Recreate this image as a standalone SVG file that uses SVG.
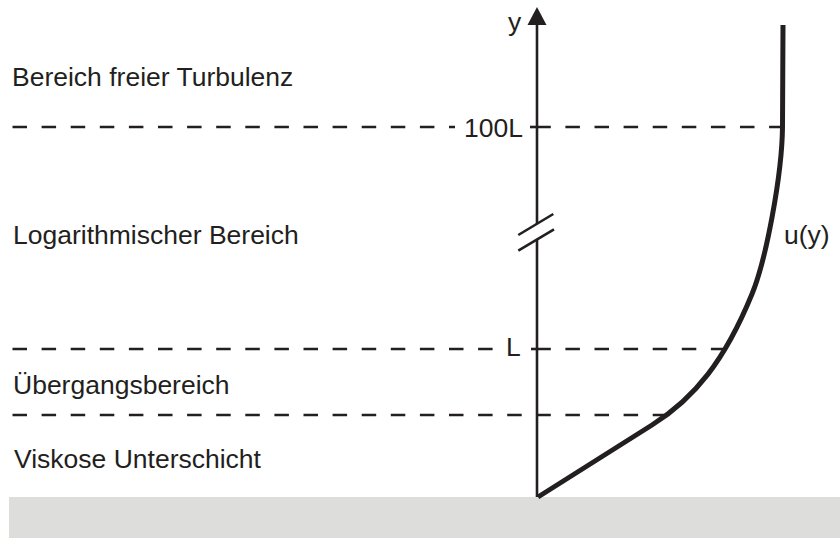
<svg xmlns="http://www.w3.org/2000/svg" width="840" height="538" viewBox="0 0 840 538">
  <style>
    .lbl { font-family: "Liberation Sans", Arial, sans-serif; font-size: 26.5px; fill: #231f20; }
    .dash { fill: none; stroke: #231f20; stroke-width: 2.6; stroke-dasharray: 14.5 14.6; }
    .solid { fill: none; stroke: #231f20; stroke-width: 2.6; }
    .curve { fill: none; stroke: #231f20; stroke-width: 5; stroke-linejoin: round; }
  </style>
  <rect width="840" height="538" fill="#ffffff"/>
  <g id="ground">
    <rect x="9" y="497" width="831" height="41" fill="#dddddc"/>
  </g>
  <g id="levels">
    <path class="dash" d="M12.5,127 H455"/>
    <path class="dash" d="M536.3,127 H781"/>
    <path class="solid" d="M530,127 H538"/>
    <path class="dash" d="M12.5,349 H494"/>
    <path class="dash" d="M536.3,349 H727"/>
    <path class="solid" d="M531,349 H538"/>
    <path class="dash" d="M12.5,415 H664"/>
  </g>
  <g id="axis">
    <path class="solid" d="M537,24 V224 M537,239.5 V497"/>
    <polygon points="537,7 527.5,25 546.5,25" fill="#231f20"/>
    <path class="solid" d="M518.3,235 L553.3,214 M518.3,250.7 L554,229.3"/>
    <text class="lbl" x="508" y="31">y</text>
    <text class="lbl" x="523" y="137" text-anchor="end">100L</text>
    <text class="lbl" x="506" y="356">L</text>
  </g>
  <g id="profile">
    <path class="curve" d="M538,497 L652,425 C695,398 725,360 752,294 C766,260 782,175 782.5,127 L783,25"/>
    <text class="lbl" x="784" y="244">u(y)</text>
  </g>
  <g id="regions">
    <text class="lbl" x="12" y="86">Bereich freier Turbulenz</text>
    <text class="lbl" x="13" y="244">Logarithmischer Bereich</text>
    <text class="lbl" x="13" y="394">Übergangsbereich</text>
    <text class="lbl" x="14" y="468">Viskose Unterschicht</text>
  </g>
</svg>
